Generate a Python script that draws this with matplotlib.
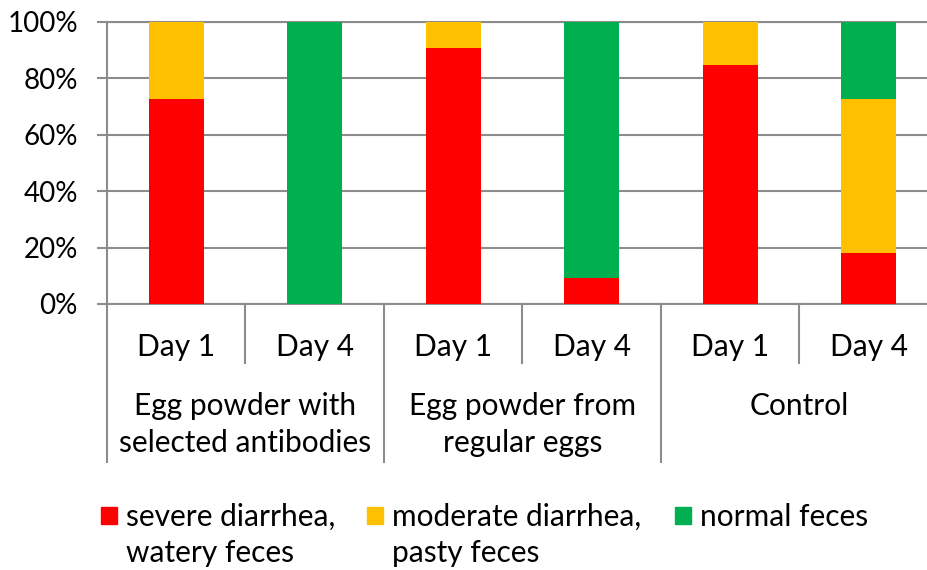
import matplotlib.pyplot as plt
from matplotlib.patches import Rectangle
from matplotlib.transforms import blended_transform_factory

plt.rcParams['font.family'] = ['Lato', 'DejaVu Sans']

days = ["Day 1", "Day 4", "Day 1", "Day 4", "Day 1", "Day 4"]
groups = ["Egg powder with\nselected antibodies", "Egg powder from\nregular eggs", "Control"]
series = ["severe diarrhea,\nwatery feces", "moderate diarrhea,\npasty feces", "normal feces"]
severe = [8/11, 0.0, 10/11, 1/11, 11/13, 2/11]
moderate = [3/11, 0.0, 1/11, 0.0, 2/13, 6/11]
normal = [0.0, 1.0, 0.0, 10/11, 0.0, 3/11]
colors = ["#FF0000", "#FFC000", "#00B050"]

W, H = 928, 570
fig = plt.figure(figsize=(W / 100, H / 100), dpi=100)
ax = fig.add_axes([107/W, 266/H, 831/W, 282/H])

x = list(range(len(days)))
bottom = [0.0] * len(days)
for vals, name, c in zip([severe, moderate, normal], series, colors):
    ax.bar(x, vals, width=0.4, bottom=bottom, color=c, zorder=3)
    bottom = [b + v for b, v in zip(bottom, vals)]

gray = "#8c8c8c"
ax.set_xlim(-0.5, 5.5)
ax.set_ylim(0, 1)
ax.set_yticks([0, 0.2, 0.4, 0.6, 0.8, 1.0])
ax.set_yticklabels(["0%", "20%", "40%", "60%", "80%", "100%"], fontsize=20)
ax.yaxis.grid(True, color=gray, linewidth=1.5, zorder=0)
ax.tick_params(axis='y', length=7, width=1.5, color=gray, pad=14)
ax.set_xticks(x)
ax.set_xticklabels(days, fontsize=21.5)
ax.tick_params(axis='x', length=0, pad=21)
ax.spines["right"].set_visible(False)
for s in ["left", "bottom", "top"]:
    ax.spines[s].set_color(gray)
    ax.spines[s].set_linewidth(1.5)

# multi-level category axis
tr = blended_transform_factory(ax.transData, ax.transAxes)
for i in range(7):
    xs = i - 0.5
    low = -0.56 if i % 2 == 0 else -0.21
    ax.plot([xs, xs], [0, low], color=gray, lw=1.5, transform=tr, clip_on=False)
for g, name in enumerate(groups):
    ax.text(2 * g + 0.5, -0.312, name, transform=tr, ha='center', va='top',
            fontsize=21.5, linespacing=1.38)

# legend drawn by hand so the squares line up with the first text line
leg_x = [101, 367, 675]
for px, name, c in zip(leg_x, series, colors):
    fig.add_artist(Rectangle((px / W, 1 - 524 / H), 16 / W, 17 / H,
                             transform=fig.transFigure, color=c))
    fig.text((px + 25) / W, 1 - 503 / H, name, ha='left', va='top',
             fontsize=21.5, linespacing=1.36)

fig.savefig("out.png", dpi=100)
